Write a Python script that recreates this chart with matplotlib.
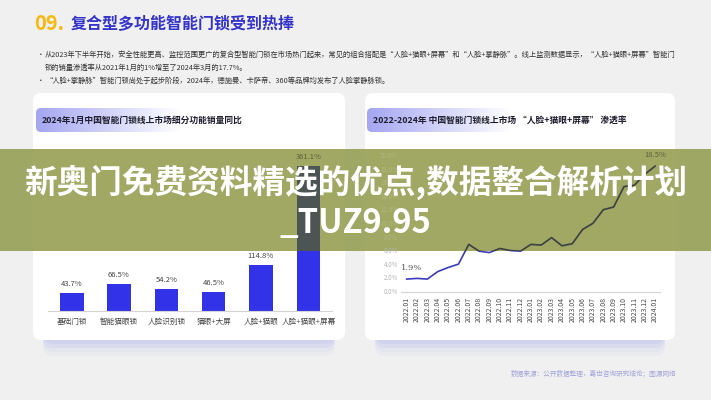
import matplotlib
matplotlib.use('Agg')
import matplotlib.pyplot as plt
from matplotlib.patches import Rectangle, FancyBboxPatch
from matplotlib.transforms import Bbox, TransformedBbox
from matplotlib.colors import to_rgb
import numpy as np

plt.rcParams['font.family'] = ['Noto Sans CJK SC', 'DejaVu Sans']

# ---------------- data ----------------
title_num = "09."
title_text = "复合型多功能智能门锁受到热捧"
bullets = [
    "从2023年下半年开始，安全性能更高、监控范围更广的复合型智能门锁在市场热门起来，常见的组合搭配是“人脸+猫眼+屏幕”和“人脸+掌静脉”。线上监测数据显示，“人脸+猫眼+屏幕”智能门",
    "锁的销量渗透率从2021年1月的1%增至了2024年3月的17.7%。",
    "“人脸+掌静脉”智能门锁尚处于起步阶段，2024年，德施曼、卡萨帝、360等品牌均发布了人脸掌静脉锁。",
]
left_title = "2024年1月中国智能门锁线上市场细分功能销量同比"
right_title = "2022-2024年 中国智能门锁线上市场 “人脸+猫眼+屏幕” 渗透率"

bar_categories = ["基础门锁", "智能猫眼锁", "人脸识别锁", "猫眼+大屏", "人脸+猫眼", "人脸+猫眼+屏幕"]
bar_values = [43.7, 66.5, 54.2, 46.5, 114.8, 361.1]

months = ["2022.01", "2022.02", "2022.03", "2022.04", "2022.05", "2022.06", "2022.07",
          "2022.08", "2022.09", "2022.10", "2022.11", "2022.12", "2023.01", "2023.02",
          "2023.03", "2023.04", "2023.05", "2023.06", "2023.07", "2023.08", "2023.09",
          "2023.10", "2023.11", "2023.12", "2024.01"]
penetration = [1.9, 2.0, 1.9, 3.0, 3.6, 4.1, 7.0, 6.0, 5.8, 6.4, 6.1, 6.0, 7.0, 6.9,
               8.0, 6.8, 7.1, 9.2, 10.1, 12.1, 12.5, 15.5, 15.7, 17.3, 18.5]
line_yticks = [0, 2, 4, 6, 8, 10, 12, 14, 16, 18, 20]
first_label = "1.9%"
last_label = "18.5%"

banner_line1 = "新奥门免费资料精选的优点,数据整合解析计划"
banner_line2 = "_TUZ9.95"
source_text = "数据来源：公开数据整理，嘉世咨询研究结论；图源网络"

# ---------------- layout ----------------
W, H = 711, 400
DPI = 100
fig = plt.figure(figsize=(7.11, 4.0), dpi=DPI)
fig.patch.set_facecolor('#f0f0f0')


def frac(x0, y0, x1, y1):
    return [x0 / W, 1 - y1 / H, (x1 - x0) / W, (y1 - y0) / H]


bg = fig.add_axes([0, 0, 1, 1], zorder=-10)
bg.axis('off')

# cards with soft lavender shadow
for (x0, x1) in [(33, 345), (365, 675)]:
    for dy, a in [(16, 0.07), (12, 0.10), (8, 0.14), (4, 0.18)]:
        bg.add_patch(FancyBboxPatch((x0 + 10, 100 + dy), (x1 - x0 - 20), 240,
                                    boxstyle='round,pad=0,rounding_size=10',
                                    fc='#a9acee', ec='none', alpha=a))
    bg.add_patch(FancyBboxPatch((x0, 93), x1 - x0, 247,
                                boxstyle='round,pad=0,rounding_size=8',
                                fc='white', ec='none'))

# panel title gradient bars
for (x0, txt) in [(36, left_title), (367, right_title)]:
    grad = np.zeros((1, 256, 4))
    grad[..., :3] = to_rgb('#9a9cf0')
    grad[..., 3] = np.linspace(0.9, 0.0, 256)
    im = bg.imshow(grad, extent=[x0, x0 + 145, 132, 108], aspect='auto',
                   interpolation='bicubic', zorder=2)
    clip = FancyBboxPatch((x0, 108), 145, 24, boxstyle='round,pad=0,rounding_size=5',
                          transform=bg.transData, fc='none', ec='none')
    im.set_clip_path(clip)
    bg.text(x0 + 6, 120, txt, fontsize=6.3, weight='bold', color='#1e1e2e',
            va='center', ha='left', zorder=3)

# title
bg.text(34, 24, title_num, fontsize=14.5, weight='bold', color='#f6b912', va='center')
bg.text(71, 24, title_text, fontsize=11.5, weight='bold', color='#3434cc', va='center')

# bullets
bg.text(37, 55, "•", fontsize=5.5, color='#444', va='center')
bg.text(45, 55, bullets[0], fontsize=5.25, color='#333', va='center')
bg.text(45, 68, bullets[1], fontsize=5.25, color='#333', va='center')
bg.text(37, 81, "•", fontsize=5.5, color='#444', va='center')
bg.text(45, 81, bullets[2], fontsize=5.25, color='#333', va='center')

bg.text(676, 374, source_text, fontsize=4.8, color='#a2a4d8', ha='right', va='center')

bg.set_xlim(0, W)
bg.set_ylim(H, 0)

# ---------------- bar chart ----------------
bar_rect = frac(48, 150, 332, 311)
axb = fig.add_axes(bar_rect, zorder=1)
axb.patch.set_alpha(0)
xb = np.arange(len(bar_values))
axb.bar(xb, bar_values, width=0.5, color='#3232e8')
axb.set_xlim(-0.5, len(bar_values) - 0.5)
axb.set_ylim(0, 401)
for s in ['top', 'right', 'left']:
    axb.spines[s].set_visible(False)
axb.spines['bottom'].set_color('#d4d4d4')
axb.spines['bottom'].set_linewidth(0.8)
axb.set_yticks([])
axb.set_xticks(xb)
axb.set_xticklabels(bar_categories, fontsize=5.5, color='#444')
axb.tick_params(axis='x', length=0, pad=5)

# ---------------- line chart ----------------
line_rect = frac(400.7, 156, 660, 292)
axl = fig.add_axes(line_rect, zorder=1)
axl.patch.set_alpha(0)
xl = np.arange(len(penetration))
axl.plot(xl, penetration, color='#3b3bb8', lw=1.2)
axl.set_xlim(-0.58, len(penetration) - 1 + 0.48)
axl.set_ylim(0, 20)
for s in ['top', 'right', 'left']:
    axl.spines[s].set_visible(False)
axl.spines['bottom'].set_color('#d4d4d4')
axl.spines['bottom'].set_linewidth(0.8)
axl.set_yticks(line_yticks)
axl.set_yticklabels([])
axl.set_xticks(xl)
axl.set_xticklabels(months, rotation=90, fontsize=5, color='#4a4a4a')
axl.tick_params(axis='x', length=0, pad=3.5)
axl.tick_params(axis='y', length=0, pad=2)
axl.annotate(first_label, (xl[0], penetration[0]), xytext=(3.5, 8), textcoords='offset points',
             ha='center', va='center', fontsize=6, color='#555', family='DejaVu Serif')

# ---------------- overlay banner ----------------
band_top, band_bot = 149, 251
ov = fig.add_axes([0, 0, 1, 1], zorder=10)
ov.axis('off')
ov.add_patch(Rectangle((0, band_top), W, band_bot - band_top, fc='#9ba35c', ec='none', alpha=0.95))
ov.set_xlim(0, W)
ov.set_ylim(H, 0)

bandbox = TransformedBbox(Bbox([[0, 1 - band_bot / H], [1, 1 - band_top / H]]), fig.transFigure)
band_y0 = (1 - band_bot / H) * H * DPI / 100
band_y1 = (1 - band_top / H) * H * DPI / 100


def in_band(ax, x, y, dy_pt):
    yd = ax.transData.transform((x, y))[1] + dy_pt * DPI / 72
    return band_y0 <= yd <= band_y1


# darkened marks seen through the banner + labels drawn once, on top
axb2 = fig.add_axes(bar_rect, zorder=11)
axb2.axis('off')
axb2.set_xlim(axb.get_xlim())
axb2.set_ylim(axb.get_ylim())
bars2 = axb2.bar(xb, bar_values, width=0.5, color='#4d5454')
for p in bars2:
    p.set_clip_box(bandbox)
for xi, v in zip(xb, bar_values):
    c = '#5d6236' if in_band(axb2, xi, v, 6.5) else '#444'
    axb2.annotate(f"{v}%", (xi, v), xytext=(0, 6.5), textcoords='offset points',
                  ha='center', va='center', fontsize=5.5, color=c)

axl2 = fig.add_axes(line_rect, zorder=11)
axl2.axis('off')
axl2.set_xlim(axl.get_xlim())
axl2.set_ylim(axl.get_ylim())
ln, = axl2.plot(xl, penetration, color='#3d4242', lw=1.2)
ln.set_clip_box(bandbox)
for tv in line_yticks:
    c = '#b1b77c' if in_band(axl2, 0, tv, 0) else '#b4b4b4'
    axl2.annotate(f"{tv:.1f}%", (0, tv), xycoords=('axes fraction', 'data'),
                  xytext=(-2, 0), textcoords='offset points', ha='right', va='center',
                  fontsize=4.5, color=c)
c = '#5d6236' if in_band(axl2, xl[-1], penetration[-1], 8) else '#555'
axl2.annotate(last_label, (xl[-1], penetration[-1]), xytext=(0, 8), textcoords='offset points',
              ha='center', va='center', fontsize=5.5, color=c)

fig.text(0.5, 1 - 182 / H, banner_line1, ha='center', va='center', fontsize=23.5,
         weight='bold', color='white', zorder=30)
fig.text(0.5, 1 - 223 / H, banner_line2, ha='center', va='center', fontsize=23.5,
         weight='bold', color='white', zorder=30)

fig.savefig('out.png', dpi=DPI, facecolor=fig.get_facecolor())
